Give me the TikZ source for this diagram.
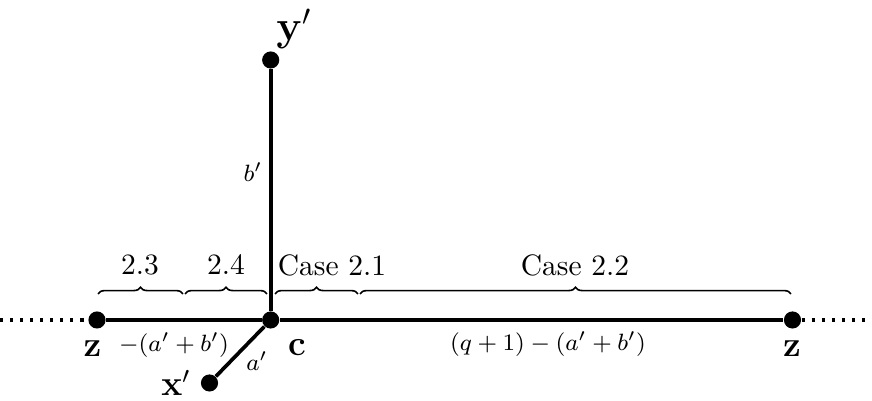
\documentclass[tikz,border=0pt]{standalone}
\usetikzlibrary{decorations.pathreplacing}
\begin{document}
\begin{tikzpicture}[x=0.3388pt,y=-0.3388pt,
  vtx/.style={circle,fill=black,inner sep=0pt,minimum size=5.8pt},
  edge/.style={line width=1.25pt},
  dotline/.style={line width=1.25pt,dash pattern=on 1.1pt off 2.3pt},
  brc/.style={decorate,decoration={brace,amplitude=2.3pt},line width=0.55pt},
  lab/.style={inner sep=0pt,font=\footnotesize},
  txt/.style={inner sep=0pt}]
\useasboundingbox (0,0) rectangle (872,401);
% vertices
\node[vtx] (c) at (270.7,320) {};
\node[vtx] (zl) at (97,320) {};
\node[vtx] (zr) at (792.5,320) {};
\node[vtx] (yp) at (270.7,60) {};
\node[vtx] (xp) at (209.5,383) {};
\coordinate (dl) at (0,320);
\coordinate (dr) at (872,320);
% edges
\draw[edge] (zl) -- (c);
\draw[edge] (c) -- (zr);
\draw[edge] (c) -- (yp);
\draw[edge] (c) -- (xp);
\draw[dotline] (dl) -- (zl);
\draw[dotline] (zr) -- (dr);
% vertex labels
\node[txt,font=\large] (lzl) at (92.5,349) {$\mathbf{z}$};
\node[txt,font=\large] (lzr) at (792,349) {$\mathbf{z}$};
\node[txt,font=\large] (lc) at (297,348) {$\mathbf{c}$};
\node[txt,font=\Large] (lyp) at (294,29) {$\mathbf{y}'$};
\node[txt,font=\large] (lxp) at (176,383) {$\mathbf{x}'$};
% edge labels
\node[lab] (lb) at (253,172) {$b'$};
\node[lab] (la) at (257,361) {$a'$};
\node[lab] (lneg) at (174,345) {$-(a'+b')$};
\node[lab] (lq) at (548,344) {$(q+1)-(a'+b')$};
% braces
\coordinate (b1a) at (98,294); \coordinate (b1b) at (183,294);
\coordinate (b2a) at (185,294); \coordinate (b2b) at (267,294);
\coordinate (b3a) at (275,294); \coordinate (b3b) at (358,294);
\coordinate (b4a) at (360,294); \coordinate (b4b) at (791,294);
\draw[brc] (b1a) -- (b1b);
\draw[brc] (b2a) -- (b2b);
\draw[brc] (b3a) -- (b3b);
\draw[brc] (b4a) -- (b4b);
\node[txt] (t1) at (140,265) {2.3};
\node[txt] (t2) at (226,265) {2.4};
\node[txt] (t3) at (332,265) {Case 2.1};
\node[txt] (t4) at (575,265) {Case 2.2};
\end{tikzpicture}
\end{document}
